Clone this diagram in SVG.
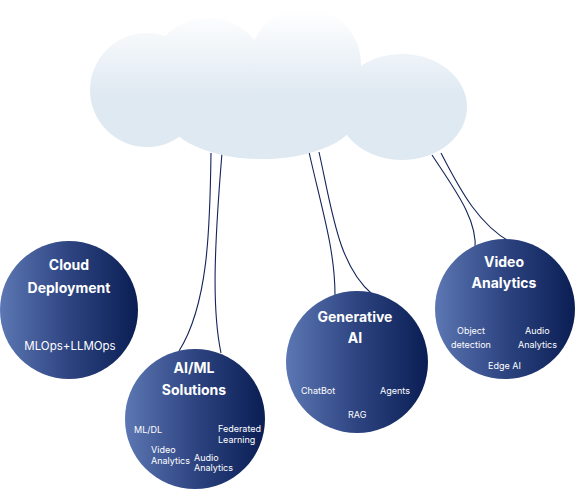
<svg xmlns="http://www.w3.org/2000/svg" width="575" height="490" viewBox="0 0 575 490">
<defs>
<linearGradient id="cloudG" gradientUnits="userSpaceOnUse" x1="0" y1="10" x2="0" y2="95">
<stop offset="0" stop-color="#ffffff"/>
<stop offset="1" stop-color="#dfe9f2"/>
</linearGradient>
<linearGradient id="nodeG" x1="0" y1="0" x2="1" y2="0">
<stop offset="0" stop-color="#5c77b3"/>
<stop offset="0.5" stop-color="#2d4481"/>
<stop offset="1" stop-color="#0a1e54"/>
</linearGradient>
<style>
.node{fill:url(#nodeG);}
.t{font-family:Inter,"Liberation Sans",sans-serif;font-weight:700;font-size:14px;fill:#ffffff;text-anchor:middle;}
.s{font-family:Inter,"Liberation Sans",sans-serif;font-size:9px;fill:#ffffff;}
.m{font-family:Inter,"Liberation Sans",sans-serif;font-size:11.5px;fill:#ffffff;text-anchor:middle;}
.c{fill:none;stroke:#14245a;stroke-width:1.1;}
</style>
</defs>
<g id="connectors">
<path class="c" d="M211,153 C210,230 208,305 179,351"/>
<path class="c" d="M222,153 C214,250 212,310 221,353"/>
<path class="c" d="M309,152 C322,210 335,250 335,295"/>
<path class="c" d="M319,152 C332,210 338,265 372,294"/>
<path class="c" d="M432,155 C455,190 478,220 475,250"/>
<path class="c" d="M441,153 C460,190 480,228 516,245"/>
</g>
<g id="cloud" fill="url(#cloudG)">
<circle cx="147" cy="90" r="57"/>
<circle cx="208" cy="78" r="60"/>
<circle cx="305" cy="64" r="56"/>
<ellipse cx="262" cy="115" rx="95" ry="44"/>
<ellipse cx="402" cy="107" rx="65" ry="53"/>
</g>
<g id="cloud-deployment">
<circle class="node" cx="69" cy="310" r="69"/>
<text class="t" x="69" y="270">Cloud</text>
<text class="t" x="69" y="293">Deployment</text>
<text class="m" x="70" y="350">MLOps+LLMOps</text>
</g>
<g id="aiml-solutions">
<circle class="node" cx="195" cy="419" r="70"/>
<text class="t" x="194" y="373">AI/ML</text>
<text class="t" x="194" y="395">Solutions</text>
<text class="s" x="134" y="433">ML/DL</text>
<text class="s" x="218" y="432">Federated</text>
<text class="s" x="218" y="443">Learning</text>
<text class="s" x="151" y="453">Video</text>
<text class="s" x="151" y="464">Analytics</text>
<text class="s" x="194" y="461">Audio</text>
<text class="s" x="194" y="471">Analytics</text>
</g>
<g id="generative-ai">
<circle class="node" cx="357" cy="362" r="71"/>
<text class="t" x="355" y="322">Generative</text>
<text class="t" x="355" y="343">AI</text>
<text class="s" x="301" y="394">ChatBot</text>
<text class="s" x="380" y="394">Agents</text>
<text class="s" x="348" y="418">RAG</text>
</g>
<g id="video-analytics">
<circle class="node" cx="505" cy="309" r="70"/>
<text class="t" x="504" y="267">Video</text>
<text class="t" x="504" y="288">Analytics</text>
<text class="s" x="457" y="334">Object</text>
<text class="s" x="451" y="348">detection</text>
<text class="s" x="525" y="334">Audio</text>
<text class="s" x="518" y="348">Analytics</text>
<text class="s" x="488" y="369">Edge AI</text>
</g>
</svg>
